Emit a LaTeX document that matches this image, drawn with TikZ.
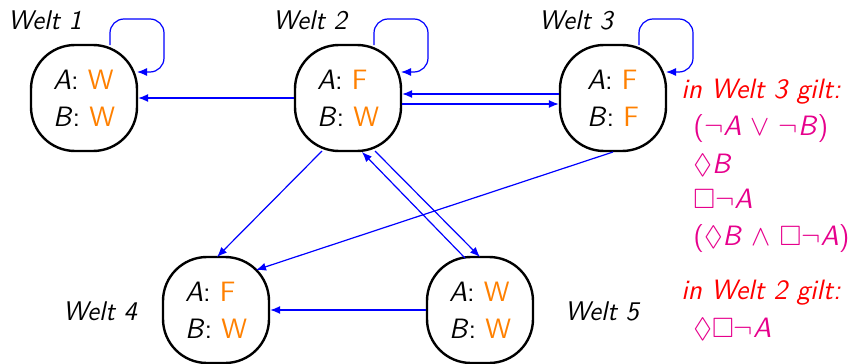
\documentclass[tikz,border=0pt]{standalone}
\usepackage{amssymb}
\usetikzlibrary{calc,arrows.meta}
\definecolor{valcol}{RGB}{255,128,0}
\definecolor{formcol}{RGB}{230,0,140}
\definecolor{headcol}{RGB}{255,0,0}
\definecolor{relcol}{RGB}{0,0,255}
\newcommand{\wv}[1]{\textcolor{valcol}{#1}}
\newcommand{\va}{\textit{A}}
\newcommand{\vb}{\textit{B}}

\begin{document}
\begin{tikzpicture}[x=0.5pt,y=-0.5pt,
  world/.style={draw, line width=1.2pt, rounded corners=22pt,
    minimum width=53pt, minimum height=53pt, inner sep=0pt, align=left,
    font=\sffamily\fontsize{14}{18.5}\selectfont},
  wlabel/.style={inner sep=0pt, font=\sffamily\itshape\fontsize{13.5}{16}\selectfont},
  rel/.style={draw=relcol, line width=0.6pt, -{Latex[length=5pt,width=4pt]}},
  loopcurve/.style={rel, rounded corners=7pt},
  head/.style={anchor=base west, inner sep=0pt, text=headcol,
    font=\sffamily\itshape\fontsize{14}{16}\selectfont},
  form/.style={anchor=base west, inner sep=0pt, text=formcol,
    font=\sffamily\fontsize{14}{16}\selectfont}
]
\useasboundingbox (0,0) rectangle (852,364);

% worlds with their valuations
\node[world] (n1) at (84,98)  {\va: \wv{W}\\\vb: \wv{W}};
\node[world] (n2) at (348,98) {\va: \wv{F}\\\vb: \wv{W}};
\node[world] (n3) at (613,98) {\va: \wv{F}\\\vb: \wv{F}};
\node[world] (n4) at (216,310) {\va: \wv{F}\\\vb: \wv{W}};
\node[world] (n5) at (480,310) {\va: \wv{W}\\\vb: \wv{W}};

% world names
\node[wlabel] (l1) at (45,20)  {Welt 1};
\node[wlabel] (l2) at (310,20) {Welt 2};
\node[wlabel] (l3) at (576,20) {Welt 3};
\node[wlabel] (l4) at (100,311) {Welt 4};
\node[wlabel] (l5) at (602,311) {Welt 5};

% reflexive accessibility
\foreach \w in {n1,n2,n3}{
  \draw[loopcurve] ($(\w.center)+(26,-53)$) -- ($(\w.center)+(26,-79)$)
    -- ($(\w.center)+(80,-79)$) -- ($(\w.center)+(80,-26)$)
    -- ($(\w.center)+(53,-26)$);
}

% accessibility relation
\draw[rel] (n2.west) -- (n1.east);
\draw[rel] ($(n3.west)+(0,-4)$) -- ($(n2.east)+(0,-4)$);
\draw[rel] ($(n2.east)+(0,6)$) -- ($(n3.west)+(0,6)$);
\draw[rel] ($(n2.center)+(-26,53)$) -- ($(n4.center)+(1,-53)$);
\draw[rel] ($(n5.center)+(-15,-52)$) -- ($(n2.center)+(14,54)$);
\draw[rel] ($(n2.center)+(27,53)$) -- ($(n5.center)+(0,-53)$);
\draw[rel] ($(n3.center)+(0,54)$) -- ($(n4.center)+(40,-40)$);
\draw[rel] (n5.west) -- (n4.east);

% formulas true in the worlds
\node[head] (t3) at (681,98) {in Welt 3 gilt:};
\node[form] (f1) at (693,135) {($\neg$\va\ $\vee$ $\neg$\vb)};
\node[form] (f2) at (693,173) {$\Diamond$\vb};
\node[form] (f3) at (693,208) {$\Box\neg$\va};
\node[form] (f4) at (693,245) {($\Diamond$\vb\ $\wedge$ $\Box\neg$\va)};
\node[head] (t2) at (681,299) {in Welt 2 gilt:};
\node[form] (g1) at (693,337) {$\Diamond\Box\neg$\va};
\end{tikzpicture}
\end{document}
